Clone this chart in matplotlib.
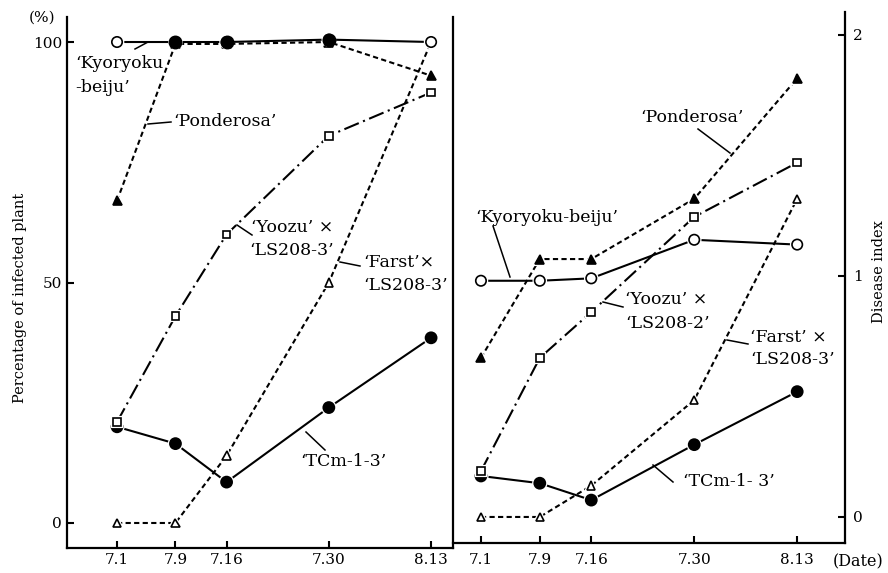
import matplotlib
matplotlib.use('Agg')
import matplotlib.pyplot as plt
from matplotlib import patheffects as pe

plt.rcParams['font.family'] = ['DejaVu Serif']

# days counted from 1 July
days = [1, 9, 16, 30, 44]
date_labels = ['7.1', '7.9', '7.16', '7.30', '8.13']

# left panel: percentage of infected plant
kyoryoku_pct = [100, 100, 100, 100.5, 100]
ponderosa_pct = [67, 99.6, 99.6, 100, 93]
yoozu_pct = [21, 43, 60, 80.5, 89.5]
farst_pct = [0, 0, 14, 50, 100]
tcm_pct = [20, 16.5, 8.5, 24, 38.5]

# right panel: disease index
kyoryoku_di = [0.98, 0.98, 0.99, 1.15, 1.13]
ponderosa_di = [0.66, 1.07, 1.07, 1.32, 1.82]
yoozu_di = [0.19, 0.66, 0.85, 1.245, 1.47]
farst_di = [0, 0, 0.13, 0.485, 1.32]
tcm_di = [0.17, 0.14, 0.07, 0.30, 0.52]

W, H = 888, 573
fig = plt.figure(figsize=(W / 100, H / 100), dpi=100)


def box(x0, y0, x1, y1):
    return [x0 / W, 1 - y1 / H, (x1 - x0) / W, (y1 - y0) / H]


axL = fig.add_axes(box(67, 17, 453, 548))
axR = fig.add_axes(box(453, 12, 845, 543))

halo = [pe.withStroke(linewidth=3, foreground='white')]
dash = (0, (2.5, 1.6))
dashdot = (0, (7.5, 2.2, 1.0, 2.2))
lw = 1.5


def series(ax, y, style, marker, filled, ms):
    ax.plot(days, y, color='black', lw=lw, linestyle=style, zorder=2)
    ax.plot(days, y, linestyle='none', marker=marker, ms=ms,
            mfc='black' if filled else 'white', mec='black', mew=1.2,
            zorder=4, path_effects=halo)


for ax, k, p, yz, f, t in [(axL, kyoryoku_pct, ponderosa_pct, yoozu_pct, farst_pct, tcm_pct),
                           (axR, kyoryoku_di, ponderosa_di, yoozu_di, farst_di, tcm_di)]:
    series(ax, t, '-', 'o', True, 8)
    series(ax, f, dash, '^', False, 6)
    series(ax, yz, dashdot, 's', False, 5.5)
    series(ax, p, dash, '^', True, 6.5)
    series(ax, k, '-', 'o', False, 7.5)

# filled circles on top row of left panel
axL.plot(days[1:4], kyoryoku_pct[1:4], linestyle='none', marker='o', ms=9,
         mfc='black', mec='black', zorder=5)

axL.set_xlim(-5.85, 47.0)
axL.set_ylim(-5.2, 105.2)
axR.set_xlim(-2.8, 50.5)
axR.set_ylim(-0.108, 2.095)

for ax in (axL, axR):
    ax.set_xticks(days)
    ax.set_xticklabels(date_labels)
    ax.spines['top'].set_visible(False)
    ax.patch.set_alpha(0)
    for s in ax.spines.values():
        s.set_linewidth(1.6)

axL.set_yticks([0, 50, 100])
axL.tick_params(axis='both', direction='in', length=5, width=1.5, labelsize=11)
axL.tick_params(axis='y', pad=3.5)
axL.tick_params(axis='x', pad=3.6)

axR.spines['left'].set_visible(False)
axR.yaxis.tick_right()
axR.set_yticks([0, 1, 2])
axR.tick_params(axis='both', direction='in', length=5, width=1.5, labelsize=11)
axR.tick_params(axis='y', pad=5.5)
axR.tick_params(axis='x', pad=7)


def label(x, y, s, size=12.5):
    fig.text(x / W, 1 - y / H, s, ha='left', va='center', fontsize=size)


def leader(x0, y0, x1, y1):
    fig.add_artist(plt.Line2D([x0 / W, x1 / W], [1 - y0 / H, 1 - y1 / H],
                              transform=fig.transFigure, color='black', lw=1.1))


# left panel labels
label(75, 63, '\u2018Kyoryoku')
label(75, 88, '-beiju\u2019')
leader(135, 49, 148, 42)
label(173, 121, '\u2018Ponderosa\u2019')
leader(148, 124, 171, 122)
label(251, 227, '\u2018Yoozu\u2019 \u00d7')
label(249, 250, '\u2018LS208-3\u2019')
leader(237, 225, 252, 235)
label(363, 262, '\u2018Farst\u2019\u00d7')
label(363, 286, '\u2018LS208-3\u2019')
leader(340, 262, 360, 266)
label(300, 462, '\u2018TCm-1-3\u2019')
leader(306, 432, 325, 450)

# right panel labels
label(475, 218, '\u2018Kyoryoku-beiju\u2019')
leader(493, 226, 510, 277)
label(640, 118, '\u2018Ponderosa\u2019')
leader(698, 129, 730, 153)
label(625, 300, '\u2018Yoozu\u2019 \u00d7')
label(625, 323, '\u2018LS208-2\u2019')
leader(603, 302, 623, 307)
label(750, 338, '\u2018Farst\u2019 \u00d7')
label(750, 360, '\u2018LS208-3\u2019')
leader(727, 340, 748, 344)
label(683, 482, '\u2018TCm-1- 3\u2019')
leader(653, 465, 673, 482)

fig.text(20 / W, 1 - 298 / H, 'Percentage of infected plant', rotation=90,
         ha='center', va='center', fontsize=10.5)
fig.text(879 / W, 1 - 272 / H, 'Disease index', rotation=90,
         ha='center', va='center', fontsize=10.5)
fig.text(42 / W, 1 - 18 / H, '(%)', ha='center', va='center', fontsize=11)
fig.text(858 / W, 1 - 562 / H, '(Date)', ha='center', va='center', fontsize=11.5)

fig.savefig('out.png', dpi=100)
